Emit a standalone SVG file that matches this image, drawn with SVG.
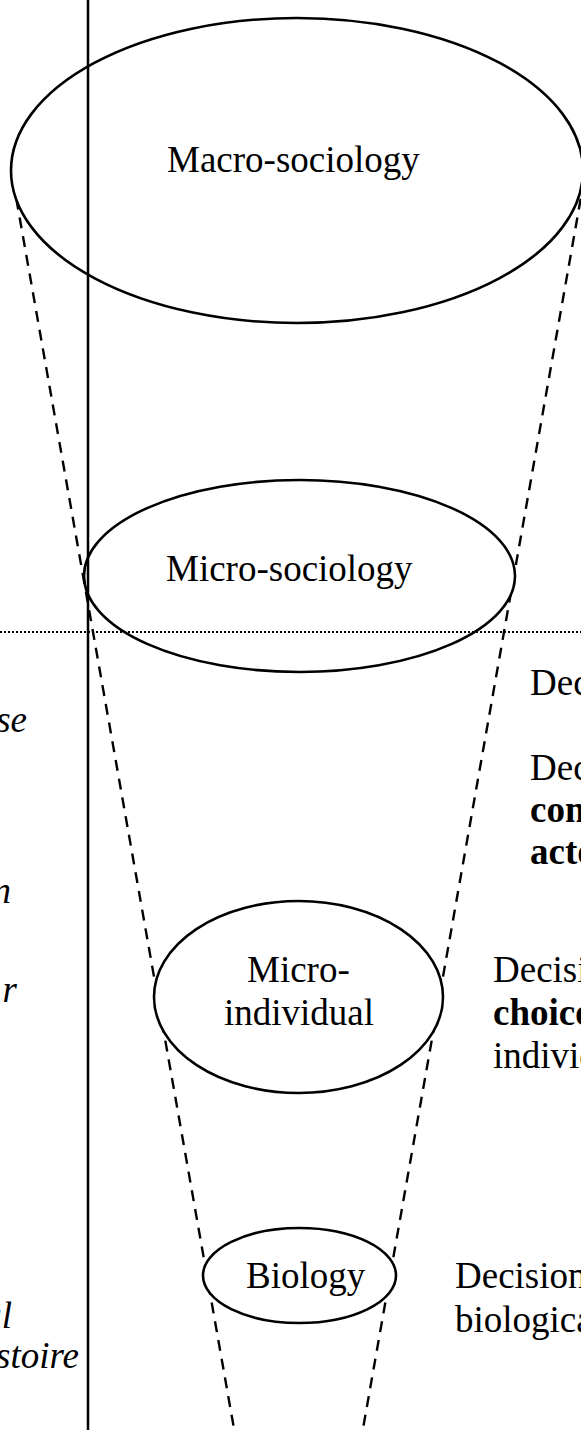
<svg xmlns="http://www.w3.org/2000/svg" width="581" height="1430" viewBox="0 0 581 1430">
<style>
.lbl{font-family:"Liberation Serif","Times New Roman",serif;font-size:37px;fill:#000}
.b{font-weight:bold}
.it{font-style:italic}
.node{fill:#fff;stroke:#000;stroke-width:2.6}
.dash{stroke:#000;stroke-width:2.4;stroke-dasharray:11 8;fill:none}
.sep{stroke:#000;stroke-width:2.5;fill:none}
.dot{stroke:#000;stroke-width:2;stroke-dasharray:2 2;fill:none}
</style>
<rect width="581" height="1430" fill="#fff"/>
<g id="connectors">
<line class="dash" x1="13" y1="180" x2="236" y2="1440"/>
<line class="dash" x1="584" y1="180" x2="361" y2="1440"/>
</g>
<g id="macro">
<ellipse class="node" cx="297" cy="170.5" rx="286" ry="152.5"/>
<text class="lbl" x="167" y="172">Macro-sociology</text>
</g>
<g id="microsociology">
<ellipse class="node" cx="299.5" cy="576" rx="215.5" ry="96"/>
<text class="lbl" x="166" y="581">Micro-sociology</text>
</g>
<g id="microindividual">
<ellipse class="node" cx="298.5" cy="997" rx="144.5" ry="96"/>
<text class="lbl" x="247" y="982">Micro-</text>
<text class="lbl" x="224" y="1025">individual</text>
</g>
<g id="biology">
<ellipse class="node" cx="299.5" cy="1275.5" rx="96.5" ry="47.5"/>
<text class="lbl" x="246" y="1288">Biology</text>
</g>
<g id="separators">
<line class="sep" x1="88" y1="0" x2="88" y2="1430"/>
<line class="dot" x1="0" y1="632" x2="581" y2="632"/>
</g>
<g id="right-labels">
<text class="lbl" x="530" y="695">Dec</text>
<text class="lbl" x="530" y="780">Dec</text>
<text class="lbl b" x="530" y="822">con</text>
<text class="lbl b" x="530" y="864">acto</text>
<text class="lbl" x="493" y="982">Decisi</text>
<text class="lbl b" x="493" y="1025">choice</text>
<text class="lbl" x="493" y="1068">individ</text>
<text class="lbl" x="455" y="1288">Decision</text>
<text class="lbl" x="455" y="1332">biologica</text>
</g>
<g id="left-labels">
<text class="lbl it" x="27" y="732" text-anchor="end">se</text>
<text class="lbl it" x="11" y="903" text-anchor="end">n</text>
<text class="lbl it" x="17" y="1002" text-anchor="end">r</text>
<text class="lbl it" x="12" y="1328" text-anchor="end">al</text>
<text class="lbl it" x="79" y="1368" text-anchor="end">stoire</text>
</g>
</svg>
